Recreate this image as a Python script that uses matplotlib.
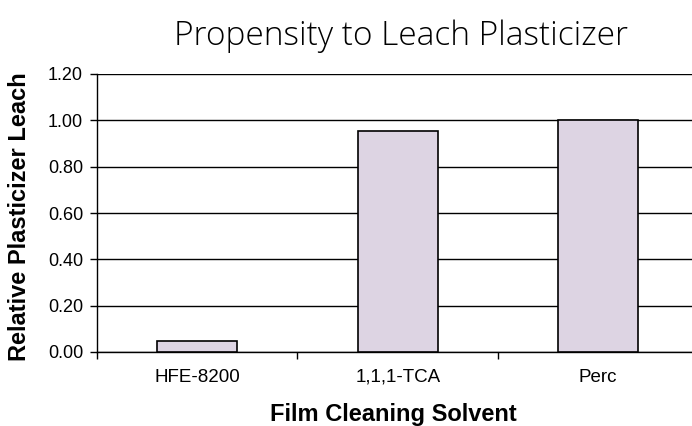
import matplotlib
matplotlib.use("Agg")
import matplotlib.pyplot as plt
import numpy as np

categories = ["HFE-8200", "1,1,1-TCA", "Perc"]
values = [0.046, 0.955, 1.00]
yticks = [0.0, 0.2, 0.4, 0.6, 0.8, 1.0, 1.2]
ytick_labels = ["0.00", "0.20", "0.40", "0.60", "0.80", "1.00", "1.20"]

W, H = 692, 426
fig = plt.figure(figsize=(W/100, H/100), dpi=100)
ax = fig.add_axes([97/W, 1-352/H, 601.5/W, (352-74)/H])

x = np.arange(len(categories))
ax.bar(x, values, width=0.4, color="#ddd4e3", edgecolor="black", linewidth=1.2, zorder=3)

ax.set_xlim(-0.5, 2.5)
ax.set_ylim(0, 1.2)
ax.set_yticks(yticks)
ax.set_yticklabels(ytick_labels, fontsize=13, family="Liberation Sans")
ax.yaxis.grid(True, color="black", linewidth=1.0, zorder=0)
ax.set_axisbelow(True)

ax.set_xticks([-0.5, 0.5, 1.5, 2.5])
ax.set_xticklabels([])
ax.set_xticks(x, minor=True)
ax.set_xticklabels(categories, minor=True, fontsize=13.5, family="Liberation Sans")
ax.tick_params(axis="x", which="minor", length=0, pad=12)
ax.tick_params(axis="x", which="major", length=5, width=1, direction="out")
ax.tick_params(axis="y", length=5, width=1, direction="out", pad=5)

for s in ["top", "right"]:
    ax.spines[s].set_visible(False)
ax.spines["left"].set_linewidth(1.0)
ax.spines["bottom"].set_linewidth(1.0)

fig.text(20/W, 1-217/H, "Relative Plasticizer Leach", fontsize=17, fontweight="bold",
         family="Liberation Sans", rotation=90, ha="center", va="center")
fig.text(393/W, 1-421.5/H, "Film Cleaning Solvent", fontsize=17, fontweight="bold",
         family="Liberation Sans", ha="center", va="baseline")

fig.text(401.5/W, 1-45/H, "Propensity to Leach Plasticizer", fontsize=24,
         family="Open Sans", fontweight="light", ha="center", va="baseline")

fig.savefig("out.png", dpi=100)
